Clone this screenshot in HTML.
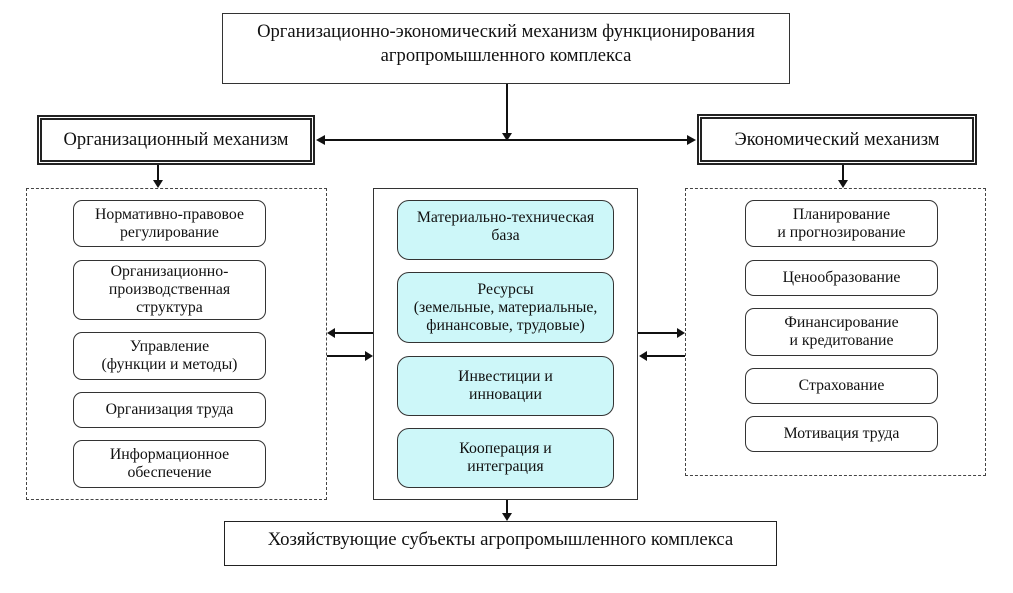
<!DOCTYPE html>
<html><head><meta charset="utf-8"><style>
body{margin:0;background:#fff;width:1013px;height:593px;position:relative;overflow:hidden;font-family:"Liberation Serif",serif;color:#111}
.b{position:absolute;box-sizing:border-box;display:flex;align-items:center;justify-content:center;text-align:center;line-height:18px;font-size:15.8px}
.r{border:1.3px solid #333;border-radius:9px;background:#fff}
.c{border:1.3px solid #333;border-radius:12px;background:#cdf7f9}
.d{position:absolute;box-sizing:border-box;border:1.3px dashed #444}
.dbl{border:5px double #222;font-size:18.5px}
</style></head><body>
<div class="b" style="left:222px;top:13px;width:568px;height:71px;border:1.5px solid #333;font-size:18.6px;line-height:24px;align-items:flex-start;padding-top:6px;white-space:nowrap">Организационно-экономический механизм функционирования<br>агропромышленного комплекса</div>
<div class="b dbl" style="left:37px;top:115px;width:278px;height:50px">Организационный механизм</div>
<div class="b dbl" style="left:697px;top:114px;width:280px;height:51px">Экономический механизм</div>
<div class="d" style="left:26px;top:188px;width:301px;height:312px"></div>
<div class="d" style="left:685px;top:188px;width:301px;height:288px"></div>
<div style="position:absolute;left:373px;top:188px;width:265px;height:312px;box-sizing:border-box;border:1.3px solid #333"></div>

<div class="b r" style="left:73px;top:200px;width:193px;height:47px">Нормативно-правовое<br>регулирование</div>
<div class="b r" style="left:73px;top:260px;width:193px;height:60px">Организационно-<br>производственная<br>структура</div>
<div class="b r" style="left:73px;top:332px;width:193px;height:48px">Управление<br>(функции и методы)</div>
<div class="b r" style="left:73px;top:392px;width:193px;height:36px">Организация труда</div>
<div class="b r" style="left:73px;top:440px;width:193px;height:48px">Информационное<br>обеспечение</div>

<div class="b c" style="left:397px;top:200px;width:217px;height:60px;align-items:flex-start;padding-top:8px">Материально-техническая<br>база</div>
<div class="b c" style="left:397px;top:272px;width:217px;height:71px;white-space:nowrap">Ресурсы<br>(земельные, материальные,<br>финансовые, трудовые)</div>
<div class="b c" style="left:397px;top:356px;width:217px;height:60px">Инвестиции и<br>инновации</div>
<div class="b c" style="left:397px;top:428px;width:217px;height:60px">Кооперация и<br>интеграция</div>

<div class="b r" style="left:745px;top:200px;width:193px;height:47px">Планирование<br>и прогнозирование</div>
<div class="b r" style="left:745px;top:260px;width:193px;height:36px">Ценообразование</div>
<div class="b r" style="left:745px;top:308px;width:193px;height:48px">Финансирование<br>и кредитование</div>
<div class="b r" style="left:745px;top:368px;width:193px;height:36px">Страхование</div>
<div class="b r" style="left:745px;top:416px;width:193px;height:36px">Мотивация труда</div>

<div class="b" style="left:224px;top:521px;width:553px;height:45px;border:1.5px solid #222;font-size:18.8px;align-items:flex-start;padding-top:9px">Хозяйствующие субъекты агропромышленного комплекса</div>

<svg width="1013" height="593" style="position:absolute;left:0;top:0" fill="#111" stroke="#111">
<g stroke-width="2">
<line x1="507" y1="84" x2="507" y2="134"/>
<line x1="324" y1="140" x2="688" y2="140"/>
<line x1="158" y1="165" x2="158" y2="181"/>
<line x1="843" y1="165" x2="843" y2="181"/>
<line x1="507" y1="500" x2="507" y2="514"/>
<line x1="334" y1="333" x2="373" y2="333"/>
<line x1="327" y1="356" x2="366" y2="356"/>
<line x1="638" y1="333" x2="677" y2="333"/>
<line x1="646" y1="356" x2="685" y2="356"/>
</g>
<g stroke="none">
<polygon points="502,133 512,133 507,141"/>
<polygon points="325,135 325,145 316,140"/>
<polygon points="687,135 687,145 696,140"/>
<polygon points="153,180 163,180 158,188"/>
<polygon points="838,180 848,180 843,188"/>
<polygon points="502,513 512,513 507,521"/>
<polygon points="335,328 335,338 327,333"/>
<polygon points="365,351 365,361 373,356"/>
<polygon points="677,328 677,338 685,333"/>
<polygon points="647,351 647,361 639,356"/>
</g>
</svg>
</body></html>
